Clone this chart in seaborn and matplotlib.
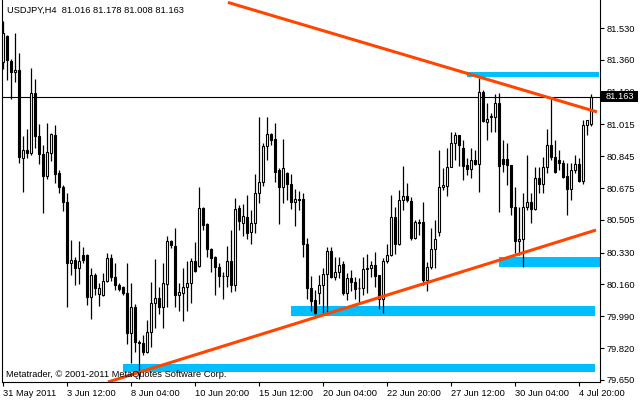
import matplotlib
matplotlib.use('Agg')
import numpy as np
import pandas as pd
import matplotlib.pyplot as plt
from matplotlib.patches import Rectangle
import seaborn as sns

# USDJPY H4, velas
opens = [
    81.349, 81.488, 81.354, 81.295, 81.306, 80.836, 80.879, 80.863, 81.183, 80.953,
    80.857, 80.740, 80.863, 80.959, 80.756, 80.681, 80.601, 80.275, 80.291, 80.248,
    80.318, 80.318, 80.093, 80.211, 80.110, 80.104, 80.179, 80.302, 80.200, 80.157,
    80.147, 80.115, 79.901, 80.040, 79.853, 79.848, 79.800, 79.907, 80.061, 80.088,
    80.040, 80.163, 80.393, 80.366, 80.104, 80.115, 80.147, 80.168, 80.286, 80.259,
    80.569, 80.483, 80.350, 80.307, 80.254, 80.206, 80.206, 80.286, 80.157, 80.569,
    80.489, 80.521, 80.441, 80.489, 80.649, 80.708, 80.900, 80.964, 80.937, 80.772,
    80.681, 80.756, 80.697, 80.601, 80.617, 80.617, 80.377, 80.141, 80.077, 80.115,
    80.157, 80.216, 80.339, 80.200, 80.227, 80.270, 80.115, 80.195, 80.174, 80.141,
    80.141, 80.243, 80.248, 80.264, 80.211, 80.083, 80.286, 80.318, 80.521, 80.377,
    80.612, 80.633, 80.606, 80.409, 80.494, 80.494, 80.184, 80.254, 80.350, 80.441,
    80.681, 80.686, 80.788, 80.916, 80.959, 80.889, 80.799, 80.777, 80.825, 80.804,
    81.189, 81.028, 81.055, 81.055, 81.130, 80.831, 80.831, 80.799, 80.574, 80.393,
    80.403, 80.574, 80.601, 80.564, 80.729, 80.697, 80.788, 80.905, 80.841, 80.825,
    80.809, 80.740, 80.670, 80.772, 80.804, 80.713, 81.012, 81.016]
highs = [
    81.568, 81.493, 81.365, 81.504, 81.397, 80.953, 80.991, 81.317, 81.258, 81.018,
    80.905, 81.023, 80.969, 81.012, 80.772, 80.692, 80.649, 80.398, 80.307, 80.393,
    80.361, 80.323, 80.248, 80.222, 80.168, 80.222, 80.329, 80.323, 80.275, 80.168,
    80.152, 80.275, 80.168, 80.056, 79.864, 79.890, 79.971, 80.174, 80.296, 80.147,
    80.275, 80.419, 80.398, 80.462, 80.168, 80.248, 80.286, 80.302, 80.387, 80.681,
    80.574, 80.489, 80.355, 80.312, 80.275, 80.227, 80.366, 80.451, 80.622, 80.585,
    80.590, 80.638, 80.558, 80.750, 81.055, 80.916, 81.055, 80.969, 81.023, 80.783,
    80.937, 80.761, 80.750, 80.670, 80.660, 80.649, 80.409, 80.206, 80.131, 80.211,
    80.248, 80.361, 80.361, 80.307, 80.307, 80.286, 80.222, 80.238, 80.200, 80.195,
    80.307, 80.323, 80.286, 80.334, 80.211, 80.302, 80.377, 80.638, 80.574, 80.665,
    80.793, 80.702, 80.628, 80.505, 80.510, 80.601, 80.280, 80.462, 80.505, 80.879,
    80.783, 80.889, 80.975, 80.975, 80.959, 80.932, 80.836, 80.889, 80.879, 81.263,
    81.199, 81.130, 81.076, 81.178, 81.183, 80.932, 80.916, 80.799, 80.681, 80.574,
    80.649, 80.852, 80.649, 80.788, 80.788, 80.841, 80.991, 81.162, 80.932, 80.879,
    80.825, 80.809, 80.809, 80.852, 80.836, 81.039, 81.039, 81.178]
lows = [
    81.311, 81.253, 81.151, 81.242, 80.809, 80.654, 80.836, 80.852, 80.889, 80.804,
    80.542, 80.724, 80.820, 80.702, 80.649, 80.553, 80.040, 80.211, 80.157, 80.163,
    80.275, 80.051, 79.976, 80.104, 80.045, 80.099, 80.174, 80.179, 80.131, 80.125,
    80.104, 79.842, 79.741, 79.800, 79.655, 79.784, 79.794, 79.826, 79.928, 80.003,
    79.928, 80.040, 80.355, 80.040, 80.019, 79.965, 80.019, 80.061, 80.227, 80.254,
    80.451, 80.307, 80.227, 80.104, 80.147, 80.083, 80.147, 80.120, 80.125, 80.451,
    80.419, 80.403, 80.377, 80.435, 80.596, 80.686, 80.825, 80.905, 80.708, 80.483,
    80.596, 80.612, 80.564, 80.473, 80.558, 80.307, 80.083, 80.019, 80.003, 80.056,
    80.008, 80.008, 80.195, 80.184, 80.195, 80.104, 80.077, 80.125, 80.083, 80.061,
    80.104, 80.115, 80.200, 80.147, 80.029, 80.008, 80.275, 80.312, 80.323, 80.371,
    80.558, 80.601, 80.398, 80.403, 80.425, 80.157, 80.125, 80.243, 80.248, 80.419,
    80.665, 80.633, 80.788, 80.825, 80.793, 80.718, 80.745, 80.729, 80.799, 80.654,
    81.030, 80.932, 80.975, 80.975, 80.547, 80.761, 80.692, 80.531, 80.329, 80.318,
    80.254, 80.558, 80.489, 80.558, 80.649, 80.649, 80.756, 80.825, 80.756, 80.772,
    80.729, 80.531, 80.612, 80.756, 80.708, 80.697, 80.959, 81.008]
closes = [
    81.504, 81.359, 81.295, 81.306, 80.841, 80.879, 80.863, 81.183, 80.953, 80.857,
    80.740, 80.868, 80.964, 80.750, 80.681, 80.601, 80.275, 80.291, 80.248, 80.286,
    80.291, 80.093, 80.211, 80.141, 80.141, 80.179, 80.302, 80.200, 80.157, 80.136,
    80.115, 79.901, 80.040, 79.853, 79.848, 79.800, 79.907, 80.061, 80.088, 80.040,
    80.168, 80.393, 80.371, 80.104, 80.120, 80.147, 80.168, 80.286, 80.232, 80.569,
    80.478, 80.350, 80.302, 80.254, 80.206, 80.204, 80.286, 80.157, 80.564, 80.499,
    80.526, 80.435, 80.489, 80.649, 80.708, 80.900, 80.964, 80.932, 80.761, 80.681,
    80.783, 80.697, 80.601, 80.617, 80.612, 80.377, 80.141, 80.072, 80.008, 80.157,
    80.216, 80.339, 80.200, 80.227, 80.264, 80.115, 80.195, 80.174, 80.136, 80.139,
    80.243, 80.248, 80.264, 80.206, 80.083, 80.286, 80.318, 80.521, 80.377, 80.612,
    80.633, 80.612, 80.409, 80.494, 80.489, 80.184, 80.254, 80.350, 80.403, 80.681,
    80.692, 80.788, 80.916, 80.959, 80.905, 80.793, 80.777, 80.825, 80.804, 81.189,
    81.034, 81.044, 81.060, 81.130, 80.793, 80.804, 80.799, 80.574, 80.393, 80.403,
    80.574, 80.601, 80.564, 80.729, 80.697, 80.788, 80.905, 80.841, 80.761, 80.809,
    80.734, 80.670, 80.772, 80.804, 80.713, 81.012, 81.039, 81.163]

date_labels = ['31 May 2011', '3 Jun 12:00', '8 Jun 04:00', '10 Jun 20:00', '15 Jun 12:00',
               '20 Jun 04:00', '22 Jun 20:00', '27 Jun 12:00', '30 Jun 04:00', '4 Jul 20:00']
price_ticks = [81.530, 81.360, 81.190, 81.015, 80.845, 80.675, 80.505, 80.330, 80.160, 79.990, 79.820, 79.650]

# zonas azules: barra inicial, barra final, precio bajo, precio alto
zone_start = [116, 124, 72, 30]
zone_end = [149, 149.25, 148, 148]
zone_low = [81.269, 80.255, 79.994, 79.692]
zone_high = [81.295, 80.309, 80.045, 79.736]

# lineas de tendencia (barra, precio)
resist_line = [(56.25, 81.667), (148.5, 81.082)]
support_line = [(26.25, 79.639), (148.25, 80.451)]

df = pd.DataFrame({'open': opens, 'high': highs, 'low': lows, 'close': closes})
df['bar'] = np.arange(len(df))
df['up'] = df['close'] >= df['open']

sns.set_style('white')
plt.rcParams['font.family'] = ['Liberation Sans', 'DejaVu Sans']
fs = 6.7

fig = plt.figure(figsize=(6.4, 4.0), dpi=100)
ax = fig.add_axes([2 / 640, 18 / 400, 598 / 640, 382 / 400])

for x0, x1, lo, hi in zip(zone_start, zone_end, zone_low, zone_high):
    ax.add_patch(Rectangle((x0, lo), x1 - x0, hi - lo, facecolor='#00BFFF', lw=0, zorder=1))

# velas
ax.vlines(df['bar'], df['low'], df['high'], color='black', lw=0.9, zorder=2)
body_low = df[['open', 'close']].min(axis=1)
body_h = (df['close'] - df['open']).abs()
ax.bar(df['bar'], body_h, bottom=body_low, width=0.5,
       color=np.where(df['up'], 'white', 'black'), edgecolor='black', lw=0.8, zorder=3)

ax.axhline(closes[-1], color='black', lw=0.8, zorder=2.5)

for line in [resist_line, support_line]:
    xs, ys = zip(*line)
    ax.plot(xs, ys, color='#FF4500', lw=2.2, solid_capstyle='butt', zorder=4)

ax.set_xlim(-0.25, 149.25)
ax.set_ylim(79.639, 81.680)

ax.set_xticks(np.arange(0, len(df), 16)[:len(date_labels)])
ax.set_xticklabels(date_labels, ha='left')
ax.set_yticks(price_ticks)
ax.set_yticklabels([f'{p:.3f}' for p in price_ticks])
ax.yaxis.tick_right()
ax.tick_params(axis='x', bottom=True, direction='out', length=3, width=0.8, pad=2,
               labelsize=fs, colors='black')
ax.tick_params(axis='y', right=True, left=False, labelright=True, labelleft=False,
               direction='out', length=3, width=0.8, pad=2, labelsize=fs, colors='black')
for s in ['left', 'right', 'bottom']:
    ax.spines[s].set_color('black')
    ax.spines[s].set_linewidth(0.8)
ax.spines['top'].set_visible(False)

# etiqueta del precio actual
ax.add_patch(Rectangle((1.001, closes[-1] - 0.029), 0.062, 0.058, transform=ax.get_yaxis_transform(),
                       facecolor='black', lw=0, clip_on=False, zorder=10))
ax.text(1.010, closes[-1], f'{closes[-1]:.3f}', transform=ax.get_yaxis_transform(),
        color='white', fontsize=fs, va='center', ha='left', zorder=11)

fig.text(7 / 640, 1 - 10.5 / 400,
         f'USDJPY,H4  {opens[-1]:.3f} {highs[-1]:.3f} {lows[-1]:.3f} {closes[-1]:.3f}',
         fontsize=fs, va='center', ha='left', color='black')
ax.text(0.007, 0.019, 'Metatrader, © 2001-2011 MetaQuotes Software Corp.', transform=ax.transAxes,
        fontsize=fs, va='center', ha='left', color='black', zorder=6)

fig.savefig('out.png', dpi=100)
